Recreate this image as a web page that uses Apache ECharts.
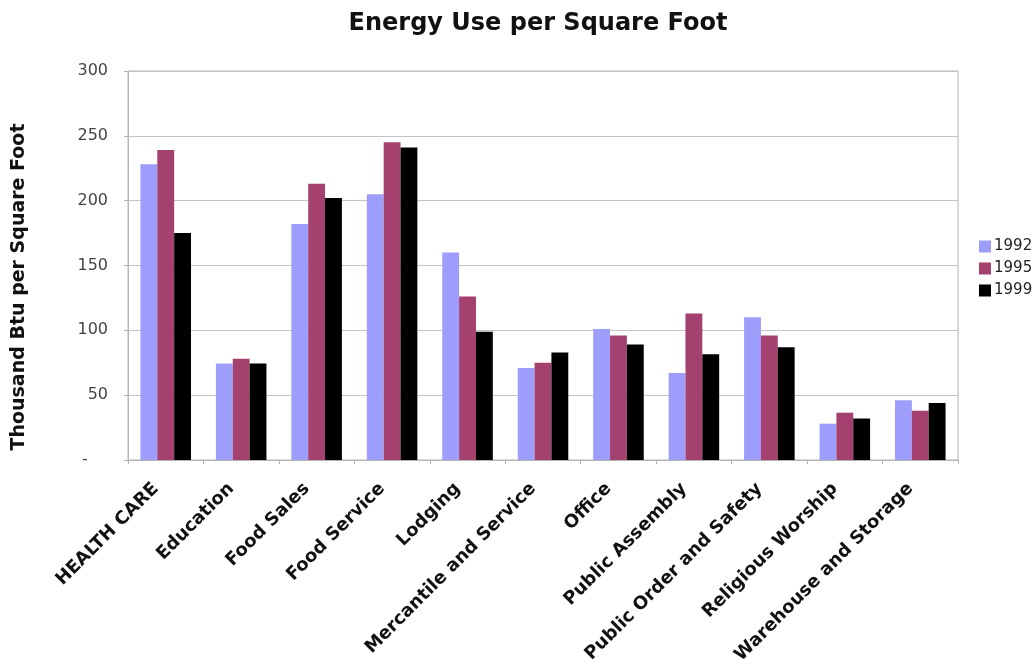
<!DOCTYPE html>
<html>
<head>
<meta charset="utf-8">
<title>Energy Use per Square Foot</title>
<script src="https://cdn.jsdelivr.net/npm/echarts@6/dist/echarts.min.js"></script>
<style>
  html, body { margin: 0; padding: 0; background: #ffffff; }
  #chart { width: 1034px; height: 668px; }
</style>
</head>
<body>
<div id="chart"></div>
<script>
// Building categories along the x axis
const categories = [
  'HEALTH CARE', 'Education', 'Food Sales', 'Food Service', 'Lodging',
  'Mercantile and Service', 'Office', 'Public Assembly',
  'Public Order and Safety', 'Religious Worship', 'Warehouse and Storage'
];

// Survey years shown in the legend
const years = ['1992', '1995', '1999'];

// Thousand Btu per square foot, one array per survey year
const values1992 = [228, 74.5, 182, 205, 160, 71, 101, 67, 110, 28, 46];
const values1995 = [239, 78, 213, 245, 126, 75, 96, 113, 96, 36.5, 38];
const values1999 = [175, 74.5, 202, 241, 99, 83, 89, 81.5, 87, 32, 44];

// Value axis ticks
const yTicks = [0, 50, 100, 150, 200, 250, 300];

const axisTitle = 'Thousand Btu per Square Foot';

const seriesValues = [values1992, values1995, values1999];
const colors = ['#9d9dfb', '#a5416e', '#000000'];

const chart = echarts.init(document.getElementById('chart'));

chart.setOption({
  backgroundColor: '#ffffff',
  animation: false,
  title: {
    text: 'Energy Use per Square Foot',
    left: 533,
    textAlign: 'center',
    top: 7,
    textStyle: {
      fontFamily: 'DejaVu Sans',
      fontWeight: 'bold',
      fontSize: 24,
      color: '#111'
    }
  },
  legend: {
    orient: 'vertical',
    left: 974,
    top: 234,
    icon: 'rect',
    itemWidth: 12,
    itemHeight: 12,
    itemGap: 7,
    data: years,
    textStyle: {
      fontFamily: 'DejaVu Sans',
      fontSize: 15,
      color: '#222',
      padding: [0, 0, 0, -2]
    }
  },
  // vertical axis title, drawn as rotated text beside the value axis
  graphic: [{
    type: 'text',
    x: 19,
    y: 287,
    rotation: Math.PI / 2,
    style: {
      text: axisTitle,
      fontFamily: 'DejaVu Sans',
      fontWeight: 'bold',
      fontSize: 19,
      fill: '#111',
      textAlign: 'center',
      textVerticalAlign: 'middle'
    }
  }],
  grid: {
    left: 128,
    right: 76,
    top: 71,
    bottom: 208,
    show: true,
    borderColor: '#b4b4b4',
    borderWidth: 1
  },
  xAxis: {
    type: 'category',
    data: categories,
    boundaryGap: true,
    axisLine: { show: true, lineStyle: { color: '#b4b4b4', width: 1 } },
    axisTick: { show: true, length: 4, alignWithLabel: false, lineStyle: { color: '#b4b4b4' } },
    axisLabel: {
      interval: 0,
      rotate: 45,
      margin: 16,
      padding: [0, 14, 0, 0],
      fontFamily: 'DejaVu Sans',
      fontWeight: 'bold',
      fontSize: 18,
      color: '#111'
    }
  },
  yAxis: {
    type: 'value',
    min: yTicks[0],
    max: yTicks[yTicks.length - 1],
    interval: 50,
    axisLine: { show: true, lineStyle: { color: '#b4b4b4', width: 1 } },
    axisTick: { show: true, length: 4, lineStyle: { color: '#b4b4b4' } },
    splitLine: { show: true, lineStyle: { color: '#c4c4c4', width: 1 } },
    axisLabel: {
      margin: 20,
      fontFamily: 'DejaVu Sans',
      fontSize: 16,
      color: '#444',
      formatter: function (v) { return v === 0 ? '-    ' : String(v); }
    }
  },
  series: years.map(function (y, i) {
    return {
      name: y,
      type: 'bar',
      data: seriesValues[i],
      barGap: '0%',
      barCategoryGap: '33%',
      itemStyle: { color: colors[i] }
    };
  }),
  color: colors
});
</script>
</body>
</html>
